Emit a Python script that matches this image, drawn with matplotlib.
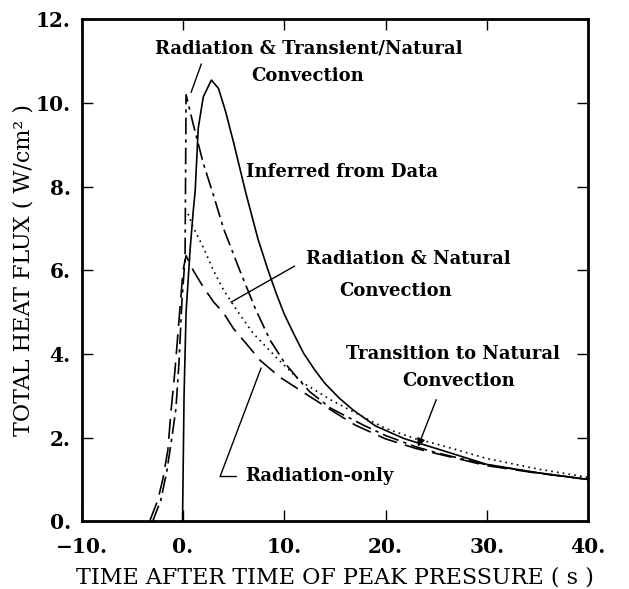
import matplotlib
matplotlib.use('Agg')
import matplotlib.pyplot as plt

plt.rcParams['font.family'] = 'DejaVu Serif'

# Inferred from data (solid)
t_data = [-0.05, 0.0, 0.1, 0.3, 0.7, 1.0, 1.2, 1.5, 2.0, 2.8, 3.5, 4.2, 5.0, 5.6, 6.2, 7.4, 8.4, 9.2, 10.0,
          11.0, 11.9, 13.0, 14.0, 15.4, 16.8, 19.0, 21.8, 23.5, 25.0, 30.0, 35.0, 40.0]
q_data = [0.0, 1.0, 3.0, 5.0, 6.5, 7.4, 7.9, 9.4, 10.15, 10.55, 10.35, 9.8, 9.05, 8.45, 7.85, 6.75, 6.0, 5.45, 4.95,
          4.45, 4.02, 3.62, 3.3, 2.95, 2.66, 2.28, 1.98, 1.85, 1.74, 1.36, 1.16, 1.0]

# Radiation & Transient/Natural Convection (dash-dot)
t_trans = [-3.0, -2.2, -1.6, -1.1, -0.7, -0.4, -0.1, 0.2, 0.3, 1.0, 2.0, 3.0, 4.0, 5.6, 7.2, 8.6, 10.0,
           11.2, 12.5, 14.6, 17.8, 20.0, 23.0, 25.0, 30.0, 35.0, 40.0]
q_trans = [0.0, 0.5, 1.2, 2.0, 2.7, 3.8, 5.3, 6.3, 10.2, 9.5, 8.56, 7.8, 7.0, 6.0, 5.05, 4.33, 3.8,
           3.45, 3.1, 2.7, 2.3, 2.05, 1.78, 1.64, 1.35, 1.16, 1.0]

# Radiation & Natural Convection (dotted)
t_nat = [0.5, 1.0, 2.0, 3.0, 4.0, 5.3, 6.9, 9.2, 11.6, 14.6, 16.8, 20.0, 23.0, 25.0, 30.0, 35.0, 40.0]
q_nat = [7.35, 7.03, 6.55, 6.0, 5.53, 5.05, 4.5, 3.92, 3.35, 2.9, 2.62, 2.22, 1.97, 1.85, 1.5, 1.25, 1.05]

# Radiation-only (long dash)
t_rad = [-3.3, -2.5, -2.0, -1.5, -1.2, -0.8, -0.4, 0.0, 0.3, 1.0, 2.0, 3.0, 4.0, 5.0, 6.2, 7.6, 9.6,
         11.9, 14.6, 17.0, 20.0, 23.0, 25.0, 30.0, 35.0, 40.0]
q_rad = [0.0, 0.5, 1.0, 1.7, 2.6, 3.6, 4.8, 6.0, 6.35, 6.0, 5.6, 5.25, 4.98, 4.6, 4.26, 3.85, 3.44,
         3.08, 2.66, 2.3, 1.97, 1.74, 1.62, 1.33, 1.15, 1.0]

x_ticks = [-10, 0, 10, 20, 30, 40]
x_labels = ['\u221210.', '0.', '10.', '20.', '30.', '40.']
y_ticks = [0, 2, 4, 6, 8, 10, 12]
y_labels = ['0.', '2.', '4.', '6.', '8.', '10.', '12.']

fig = plt.figure(figsize=(6.29, 5.89), dpi=100)
ax = fig.add_axes([0.130, 0.115, 0.805, 0.852])

ax.plot(t_data, q_data, color='k', lw=1.2, ls='-')
ax.plot(t_trans, q_trans, color='k', lw=1.2, ls=(0, (10, 3, 2, 3)))
ax.plot(t_nat, q_nat, color='k', lw=1.2, ls=(0, (1, 2.5)))
ax.plot(t_rad, q_rad, color='k', lw=1.2, ls=(0, (12, 5)))

ax.set_xlim(-10, 40)
ax.set_ylim(0, 12)
ax.set_xticks(x_ticks)
ax.set_xticklabels(x_labels, fontsize=14.5, fontweight='bold')
ax.set_yticks(y_ticks)
ax.set_yticklabels(y_labels, fontsize=14.5, fontweight='bold')
ax.tick_params(direction='in', length=8, width=1, top=True, right=True)
ax.tick_params(axis='x', pad=11)
ax.tick_params(axis='y', pad=8)
for s in ax.spines.values():
    s.set_linewidth(2)

ax.set_xlabel('TIME AFTER TIME OF PEAK PRESSURE ( s )', fontsize=16, labelpad=7)
ax.set_ylabel('TOTAL HEAT FLUX ( W/cm\u00b2 )', fontsize=16, labelpad=1)

# annotations
fs = 13
ax.text(12.4, 11.3, 'Radiation & Transient/Natural', fontsize=fs, fontweight='bold', ha='center', va='center')
ax.text(12.3, 10.65, 'Convection', fontsize=fs, fontweight='bold', ha='center', va='center')
ax.plot([1.8, 0.8], [10.93, 10.26], color='k', lw=1)

ax.text(15.7, 8.35, 'Inferred from Data', fontsize=fs, fontweight='bold', ha='center', va='center')

ax.text(22.2, 6.27, 'Radiation & Natural', fontsize=fs, fontweight='bold', ha='center', va='center')
ax.text(21.0, 5.5, 'Convection', fontsize=fs, fontweight='bold', ha='center', va='center')
ax.plot([11.0, 4.75], [6.1, 5.24], color='k', lw=1)

ax.text(26.7, 4.0, 'Transition to Natural', fontsize=fs, fontweight='bold', ha='center', va='center')
ax.text(27.2, 3.35, 'Convection', fontsize=fs, fontweight='bold', ha='center', va='center')
ax.annotate('', xy=(23.1, 1.72), xytext=(25.1, 2.97),
            arrowprops=dict(arrowstyle='-|>', color='k', lw=1, mutation_scale=12))

ax.text(6.1, 1.08, 'Radiation-only', fontsize=fs, fontweight='bold', ha='left', va='center')
ax.plot([7.7, 3.66, 5.25], [3.66, 1.07, 1.07], color='k', lw=1)

fig.savefig('out.png', dpi=100)
